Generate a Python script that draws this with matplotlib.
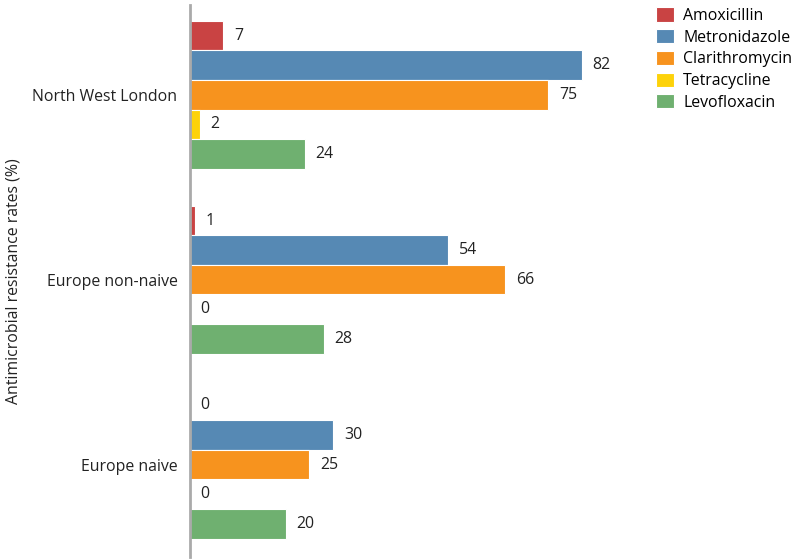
import numpy as np
import matplotlib.pyplot as plt

plt.rcParams['font.family'] = ['Open Sans', 'DejaVu Sans']

regions = ['North West London', 'Europe non-naive', 'Europe naive']
drugs = ['Amoxicillin', 'Metronidazole', 'Clarithromycin', 'Tetracycline', 'Levofloxacin']
amoxicillin = [7, 1, 0]
metronidazole = [82, 54, 30]
clarithromycin = [75, 66, 25]
tetracycline = [2, 0, 0]
levofloxacin = [24, 28, 20]

series = [amoxicillin, metronidazole, clarithromycin, tetracycline, levofloxacin]
colors = ['#c94343', '#5689b4', '#f7931e', '#fdd20a', '#6fb070']
fs = 11.4

fig = plt.figure(figsize=(7.94, 5.60), dpi=100)
ax = fig.add_axes([190 / 794, 3 / 560, 604 / 794, 552 / 560])

bar_h = 0.16
y = np.arange(len(regions))
for i, (vals, name, c) in enumerate(zip(series, drugs, colors)):
    pos = y + (i - 2) * bar_h
    ax.barh(pos, vals, height=bar_h, color=c, edgecolor='white', linewidth=0.8, label=name)
    for p, v in zip(pos, vals):
        ax.text(v + 2.2, p, str(v), va='center', ha='left', fontsize=fs, color='#222222')

ax.set_xlim(0, 126.4)
ax.set_ylim(2.5, -0.486)
ax.set_yticks(y)
ax.set_yticklabels(regions, fontsize=fs, color='#222222')
ax.tick_params(axis='y', length=0, pad=9)
ax.set_xticks([])
for s in ['top', 'right', 'bottom']:
    ax.spines[s].set_visible(False)
ax.spines['left'].set_color('#aaaaaa')
ax.spines['left'].set_linewidth(2)
ax.set_ylabel('Antimicrobial resistance rates (%)', fontsize=fs, color='#222222')
ax.yaxis.set_label_coords(-168 / 604, 0.5)

leg = ax.legend(loc='upper left', bbox_to_anchor=(650 / 794, 1 - 1 / 560), bbox_transform=fig.transFigure,
                frameon=False, fontsize=fs, handlelength=1.1, handleheight=1.0,
                handletextpad=0.6, labelspacing=0.33, borderaxespad=0)

fig.savefig('out.png', dpi=100)
